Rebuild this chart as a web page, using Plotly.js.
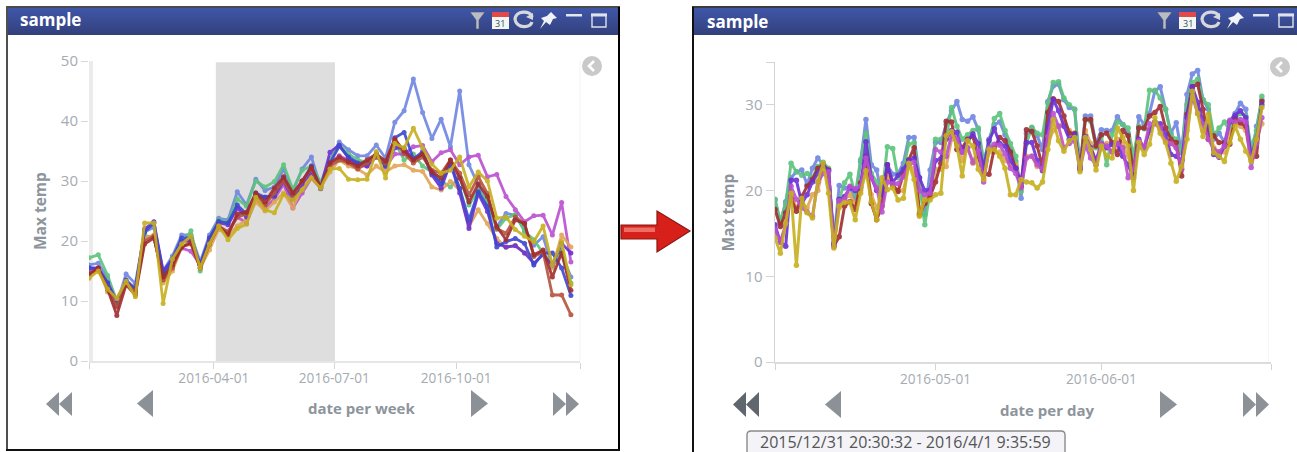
<!DOCTYPE html>
<html><head><meta charset="utf-8">
<script src="https://cdn.plot.ly/plotly-3.0.1.min.js"></script>
<style>html,body{margin:0;padding:0;background:#fff;overflow:hidden}#c{width:1297px;height:452px}</style>
</head><body><div id="c"></div>
<script>
// ---- weekly panel values (°C) ----
const weekStart = '2015-12-28 17:00';
const wPeriwinkle = [16,16.3,13.8,9.5,14.5,12.9,21.5,22.3,15,17.5,21,21,16.5,21,23.8,23.5,28.2,26,30.3,28.4,29,32,28.3,32,34,29,33.5,36.5,35.2,34.2,34.2,36,33.8,39.8,41.7,47,41.4,37.1,40.3,35.7,45,32.7,29.3,26.3,22.4,24.6,24.3,21.8,19.3,20.7,15.8,18,14];
const wGreen = [17.2,17.7,14.3,10,13,11.5,21,20.5,14.5,17,19.5,21.7,15,20.5,23.5,23.2,27,25.8,30,29,29.9,32.7,28.6,31.8,32.5,29.8,33.5,36,34.5,33.5,33.2,34.5,33,36.5,33.5,34.5,32.5,31.5,30,29,30.7,26,28.5,26.6,21.9,23.8,24.4,21.6,20.2,18,16.3,18.5,13];
const wBlue = [15.5,15.3,13,9.2,13.5,12,21.5,23,14.5,17,20.5,20.5,16,20.5,23.3,23,26,24.5,28,27.3,27.5,30.5,27.3,30,32.5,28.7,33,35.8,34,33,33,34.5,32.5,37.2,38.1,33.7,34.9,31.3,29.6,32.9,28.8,23.5,28.2,25.7,19,19.9,20.4,19.6,16,18,18,15.5,10.9];
const wPurple = [15.5,15.5,13,10,13.2,12,22,23.2,15,17,20,20,16,20.5,23,22.7,25.5,24,27.5,27.3,27.5,30,27,29.5,31.5,29,34.8,36,33.8,32.8,32.5,34,32.8,35.5,35.5,33.5,34.5,31,28.8,33,28,22.1,27.9,24.9,19.6,19,19.2,18,16.3,17.7,16,19.6,18];
const wMagenta = [14.8,15.3,12.5,9.7,13,11.5,20.5,20.8,13.5,16.5,18.8,18.3,16,19.5,22.3,21.5,24,23,26.8,25.5,27,29.5,25.5,28,30.5,28.8,33,34.2,33.5,32.5,32.5,34.2,32.3,34.5,34.5,35.7,35.9,33.2,34.7,35.2,32.7,34,34.3,30.7,31.1,27.4,25.2,23.2,24.2,24.3,21,26.4,16.5];
const wDarkRed = [14.5,15.5,12,7.6,12.7,11,19.5,20.5,14,16,19,19.7,15.5,19.5,22.5,21,24.5,24.8,28,26.5,28.8,30.7,28,30,32.3,29,33,34,33.2,32.5,33.5,34.5,33.3,37,35,33.5,34.5,31.5,30.5,33.5,30.5,26.5,29.5,27.4,22.4,20.2,23.5,22.9,17.7,18.5,14,18,11.8];
const wBrick = [14.5,15.3,12,9,13,11.5,20,20.8,13.5,15.5,19,19.5,15.5,19.5,22.5,21.5,24,24.5,27.5,26,28,30,27.5,30,32,29,32.5,33.5,33,32,33,34,33,36.9,34.6,33,34,31.8,31.3,33.5,31.3,27.7,30.7,27.9,22.1,21.3,24,22.9,17.4,18.2,11,11,7.7];
const wOrange = [14,15.5,11.5,10.5,13.3,12,20.5,21,13,15,19,20,15.5,18.5,22,21,22.5,23.5,26.5,25,26.5,28,25.5,29,31,29,31.5,33.5,32.5,32,31,32.5,31.5,32.5,32.7,31.8,31.6,29,28.5,29.9,28.5,22.4,25.2,22.9,20.4,18.9,19.3,18,17.7,18.2,15.5,21,19];
const wYellow = [13.8,15,12,10.4,13.3,10.7,23,23,9.6,17,19.5,20.8,15.5,19.5,22.5,20.2,22.1,22.8,27.3,25.2,24.7,27.8,26.8,28.5,30.5,28.8,32,32.1,30.3,30.2,30.3,34.9,30.5,36.3,35.5,38.8,35.5,32.8,31.3,31.8,34,29,31.5,30,23.8,24,21.9,20.8,19.9,22.5,16,19.9,12.7];
// ---- daily panel values (°C) ----
const dayStart = '2016-04-01';
const dPeriwinkle = [18.9,16.2,18.7,21.5,22.2,22.4,20.7,22.6,23.8,23,22.4,14,20.6,20.3,20.4,18.9,23.4,28.3,23,22.4,19.3,23,21.9,22,23.2,26.2,26.2,21.5,17.2,22.4,25.6,25.6,27.7,29.3,30.4,28.3,28.1,28.6,27.1,23,26,27.7,28,26.5,24.8,23.4,19.1,26.7,27.3,26.4,24.8,30.4,32.2,32.4,30.6,29.7,29.5,22.8,28.7,28.7,25.4,27.1,27,27,28.6,27.7,26.7,22,28.6,27.7,29,31.6,32.1,29.5,26.7,27.9,24.4,31.2,33.6,34,30.6,29.5,26,26.7,25.6,28.1,29,30.2,29.5,24,27.5,30.6];
const dGreen = [19,16.4,18.5,23.2,22.2,21.8,22,21.5,22.8,23.3,22.6,14.5,19,20.9,21.9,19.5,23.6,26.7,22,21,19.5,25.1,24.9,21.5,22.5,25.4,25.6,21,16,20,26,26,26.2,29.7,27.5,26,26.5,27,27.3,23.5,25.5,28.4,29,27,25.5,24,19.9,25.5,27.4,26.7,26.5,30.2,32.6,32.7,30.8,30,29.5,22.5,28.3,28.1,25,26.4,23,26.5,28,27.7,27.3,24,27.5,27.2,31.7,31.7,30.8,29.5,26.5,26,24.5,30,32.6,33,30.6,30,26.5,27.3,28,27,28.5,29,28.7,25,27,31];
const dDarkRed = [17.8,15.8,17.4,19.1,17.6,19.3,20.5,21.3,22.6,23,22.4,13.5,14.6,18.2,18.7,17.8,20.9,24,18.5,16.6,18.2,23,20.7,19.9,21.9,23.6,25,17.2,18.5,19.3,21,23.2,28.1,28,24.8,25,26,26.3,24,21.9,21.9,25,26.2,25.8,24.5,22.6,20.5,27.1,26.9,25.2,22.8,29.1,30.7,30.4,28.7,26.7,26.7,22.5,28.3,28.3,25.2,26.5,26.7,25.6,24.2,27,26.4,22,27.3,27.3,28.7,29.1,29.8,27.3,26,25.6,21.7,28.9,32.1,32.4,29.5,26,26.4,25.6,25.6,25.4,28.5,27.9,27.5,23.8,24,30.4];
const dPurple = [16,14,13.5,21.2,21.2,18.5,19.5,21,22,23,22.3,13.8,19,19.3,20.3,20,20.3,25.7,21.5,20,19.5,23,21,21.8,22.5,23.5,23.8,21.5,20,20.1,23.5,23.7,26,27,26.8,24.5,25.8,26.6,25.5,22.7,25.8,27.2,25.5,25.2,23.5,22.6,21,25.6,25.6,23.5,22.3,27.3,30.6,29.3,27.5,26,26.5,22.8,26.3,25,23.5,25.5,25,25.4,25.5,24,23,21.5,26,25,27,28,27.8,26.5,24.2,24,23.5,28.5,32.1,30.3,28,27.5,24.2,23.9,25.2,28,28.8,29.3,28.5,24,26,30];
const dOrange = [15,14,16,19.5,18,18.5,18,19.5,20,22.7,21,13.5,18,19,19.5,18.5,20,23,19.5,18,19,21.5,20.5,20,20,23,22.5,17.5,19,19.5,22.5,22.5,22.8,26,26,23.5,25,23.2,24,21.5,24.5,24.5,24.5,23.5,23,23,20.5,24,24,22.8,22.5,25.5,27,27.5,28,27,26,23,27,25.5,23,25,25.5,24.5,26,25.5,24,22,25,25,27,28,27,26,25.5,25,22.5,27,31,30,27,28,25,24.5,24.5,26.5,28,27.5,27,23.5,26,27.8];
const dMagenta = [15.5,14,16,20.5,19,18,17.5,17,21,22,22.2,13.5,18.8,19,20.5,20.2,20.5,23.8,21.5,20.3,17.5,21,20.8,20.8,21.6,23,23.3,20,19.5,19.7,24.8,24.5,24,26.5,26,24.5,25,23.3,24.7,21,25,25.4,25.3,24.3,22.6,22,20.3,23.8,24,23,22.5,26.3,29,27.5,25,25.5,25.8,22.5,25.3,23.8,23,25.5,25.2,24.5,25.5,25,21.5,22.5,25.8,25,27.8,27.8,27.3,25.8,25.5,25,22.5,28,31,29,27.8,26,24.8,24.5,25.2,28.2,28,28.3,28,22.7,25.5,28.5];
const dYellow = [14.5,12.7,16.2,19.7,11.3,19.1,17.4,16.8,21.1,23.2,19.7,13.3,18.2,18.6,18.6,16.6,19.7,22.3,18.7,16.6,21.5,20.1,20.3,18.9,19.1,23.2,21.3,17,18.9,18.9,19.5,19.7,26.4,26.9,25.2,21.7,25.8,25.2,22.5,21.3,24.8,24.8,24,22.6,19.5,19.5,21.3,21,20.9,20.3,21,24.8,28.3,25.8,24.6,25.8,26.2,22.2,26.2,24.8,22.4,25.2,24,23.8,27.3,26.2,25.2,20,25.6,24.2,25.4,28.5,26.7,25.6,23.2,21.1,22.8,26,31.6,29,26.3,28.9,24.4,24,23.4,25.6,27.5,26,24.6,23.4,26,29.7];
// ---- labels ----
const panelTitle = 'sample';
const yLabel = 'Max temp';
const xLabelWeek = 'date per week';
const xLabelDay = 'date per day';
const weekTicks = ['2016-04-01','2016-07-01','2016-10-01'];
const dayTicks = ['2016-05-01','2016-06-01'];
const tooltipText = '2015/12/31 20:30:32 - 2016/4/1 9:35:59';
const palette = {periwinkle:'#6f86e2',green:'#5cc47c',blue:'#3d47cf',purple:'#6b2fd6',magenta:'#bb4fd0',darkRed:'#a02c30',brick:'#b5533c',orange:'#e0a556',yellow:'#c6b01e'};

const W=1297,H=452;
const fx=x=>x/W, fy=y=>1-y/H;
const WEEK=7*864e5, DAY=864e5;
function tr(y,color,x0,dx,ax,ay,lw,ms){
  return {type:'scatter',mode:'lines+markers',x0,dx,y,xaxis:ax,yaxis:ay,hoverinfo:'skip',
    opacity:.9,line:{color,width:lw},marker:{color,size:ms}};
}
const wk=(y,c)=>tr(y,c,weekStart,WEEK,'x','y',2.8,5);
const dy=(y,c)=>tr(y,c,dayStart,DAY,'x2','y2',3,5.5);
const data=[
 wk(wPeriwinkle,palette.periwinkle),wk(wGreen,palette.green),wk(wMagenta,palette.magenta),wk(wOrange,palette.orange),
 wk(wPurple,palette.purple),wk(wBlue,palette.blue),wk(wBrick,palette.brick),wk(wDarkRed,palette.darkRed),wk(wYellow,palette.yellow),
 dy(dPeriwinkle,palette.periwinkle),dy(dGreen,palette.green),dy(dOrange,palette.orange),dy(dDarkRed,palette.darkRed),
 dy(dPurple,palette.purple),dy(dMagenta,palette.magenta),dy(dYellow,palette.yellow)
];
function P(s){let i=0;return s.replace(/-?\d+(\.\d+)?/g,m=>{const v=parseFloat(m);const r=(i++%2===0)?fx(v):fy(v);return r.toFixed(5);});}
function path(s,fill,lineColor,lw,layer){return {type:'path',xref:'paper',yref:'paper',path:P(s),fillcolor:fill||'rgba(0,0,0,0)',line:{color:lineColor||'rgba(0,0,0,0)',width:lw||0},layer:layer||'above'};}
function rect(x0,y0,x1,y1,fill,layer){return {type:'rect',xref:'paper',yref:'paper',x0:fx(x0),x1:fx(x1),y0:fy(y0),y1:fy(y1),fillcolor:fill,line:{width:0},layer:layer||'above'};}
const shapes=[];
shapes.push({type:'rect',xref:'x',yref:'y',x0:'2016-04-02 12:00',x1:'2016-07-01 12:00',y0:0,y1:49.8,fillcolor:'#dedede',line:{width:0},layer:'below'});
shapes.push(rect(89,61,93,361,'#ebebeb','below'));
shapes.push(rect(579.5,61,580.5,361,'#f3f3f3','below'));
shapes.push(rect(1268,62,1269,362,'#f6f6f6','below'));
function bar(x0,x1){
  const top=[63,86,168],bot=[50,64,124],n=27;
  for(let k=0;k<n;k++){const t=k/(n-1);
    const c='rgb('+top.map((v,j)=>Math.round(v+(bot[j]-v)*t)).join(',')+')';
    shapes.push(rect(x0,8+k,x1,9+k,c));}
}
bar(8,618); bar(694,1297);
shapes.push(rect(6,6,620,8,'#4a4a4a'));
shapes.push(rect(6,6,8,450,'#4f4f4f'));
shapes.push(rect(618,7,620,451,'#000'));
shapes.push(rect(6,449,620,451,'#111'));
shapes.push(rect(692,6,1297,8,'#3c3c3c'));
shapes.push(rect(692,7,694,452,'#111'));
function icons(o){
  shapes.push(path(`M${470+o} 12 L${485+o} 12 L${479+o} 20 L${479+o} 29 L${476+o} 29 L${476+o} 20 Z`,'#b8bcc4','#4a5272',0.6));
  shapes.push(rect(492+o,12,509+o,29,'#f4f6f4'));
  shapes.push(rect(492+o,12,509+o,17,'#e24a4a'));
  shapes.push(path(`M${515+o} 20 C${515+o} 10 ${531+o} 10 ${532+o} 17`,null,'#d6d8dc',3.2));
  shapes.push(path(`M${532+o} 22 C${530+o} 28 ${518+o} 29 ${515+o} 20`,null,'#d6d8dc',3.2));
  shapes.push(path(`M${526+o} 17 L${533+o} 20 L${533+o} 13 Z`,'#d6d8dc'));
  shapes.push(path(`M${551+o} 12 L${557+o} 18 L${553+o} 19 L${550+o} 25 L${546+o} 22 L${540+o} 29 L${544+o} 21 L${541+o} 18 L${547+o} 16 Z`,'#f2f3f6'));
  shapes.push(rect(566+o,14,582+o,16.5,'#e4e6ee'));
  shapes.push(path(`M${592+o} 14.5 L${606+o} 14.5 L${606+o} 27 L${592+o} 27 Z`,null,'#dfe2ea',1.4));
  shapes.push(rect(591+o,13.5,607+o,16.5,'#dfe2ea'));
}
icons(0); icons(687);
function collapse(cx,cy){
  shapes.push({type:'circle',xref:'paper',yref:'paper',x0:fx(cx-10),x1:fx(cx+10),y0:fy(cy-10),y1:fy(cy+10),fillcolor:'#c9c9c9',line:{width:0},layer:'above'});
  shapes.push(path(`M${cx+2} ${cy-5} L${cx-3} ${cy} L${cx+2} ${cy+5}`,null,'#fff',2.6));
}
collapse(592,66); collapse(1280,67);
shapes.push(path('M621 225 L657 225 L657 211 L690 231 L657 252 L657 239 L621 239 Z','#d8201a','#8a1712',1.2));
shapes.push(rect(624,227.5,655,232,'#ea6f66'));
const tri=(x0,x1,y0,y1,c)=>shapes.push(path(`M${x0} ${(y0+y1)/2} L${x1} ${y0} L${x1} ${y1} Z`,c));
tri(46,59,392,416,'#8b9196');tri(59,72,392,416,'#8b9196');tri(137,153,390,417,'#8b9196');
tri(488,471,390,417,'#8b9196');tri(566,553,392,416,'#8b9196');tri(579,566,392,416,'#8b9196');
tri(733,746,392,417,'#5f666e');tri(746,759,392,417,'#5f666e');tri(825,841,391,418,'#8b9196');
tri(1177,1160,391,418,'#8b9196');tri(1256,1243,392,417,'#8b9196');tri(1269,1256,392,417,'#8b9196');
shapes.push(path('M747 456 L747 435 Q747 431 751 431 L1061 431 Q1065 431 1065 435 L1065 456 Z','#f3f3f8','#8a8a8a',1.4));

const anno=(text,x,y,size,color,extra)=>Object.assign({text,x:fx(x),y:fy(y),xref:'paper',yref:'paper',showarrow:false,xanchor:'center',yanchor:'middle',
  font:{family:'"Open Sans",sans-serif',size,color}},extra||{});
const ttlColor='#8d949c';
const annotations=[
 anno('<b>'+panelTitle+'</b>',50.5,20,17,'#fff'),
 anno('<b>'+panelTitle+'</b>',737,21,17,'#fff'),
 anno('<b>'+yLabel+'</b>',39.5,211.5,15.5,ttlColor,{textangle:-90}),
 anno('<b>'+yLabel+'</b>',727,212.5,15.5,ttlColor,{textangle:-90}),
 anno('<b>'+xLabelWeek+'</b>',361.5,408,15,ttlColor),
 anno('<b>'+xLabelDay+'</b>',1047,410,15,ttlColor),
 anno('31',500.5,23.5,9,'#33505a'),
 anno('31',1187.5,23.5,9,'#33505a'),
 anno(tooltipText,905,441.5,16,'#555',{borderpad:0,borderwidth:0})
];
const tickFont={family:'"Open Sans",sans-serif',size:13.6,color:'#a6abb1'};
const yTickFont=Object.assign({},tickFont,{size:15});
const layout={
 width:W,height:H,margin:{l:0,r:0,t:0,b:0},paper_bgcolor:'#fff',plot_bgcolor:'rgba(0,0,0,0)',showlegend:false,hovermode:false,
 xaxis:{type:'date',domain:[fx(89),fx(580)],range:['2015-12-28 17:00','2017-01-02 14:00'],anchor:'y',
   tickmode:'array',tickvals:['2015-12-28 17:00',...weekTicks,'2017-01-02 14:00'],ticktext:['',...weekTicks,''],ticklabelstandoff:-2,
   showgrid:false,zeroline:false,showline:true,linecolor:'#e6e6e6',linewidth:1.5,ticks:'outside',ticklen:6,tickcolor:'#d4d4d4',tickfont:tickFont},
 yaxis:{domain:[fy(361),fy(61)],range:[0,50],anchor:'x',tickvals:[0,10,20,30,40,50],
   showgrid:false,zeroline:false,showline:false,ticks:'outside',ticklen:7,tickcolor:'#d8d8d8',tickfont:yTickFont},
 xaxis2:{type:'date',domain:[fx(775),fx(1271)],range:['2016-04-01','2016-07-02 17:00'],anchor:'y2',
   tickmode:'array',tickvals:['2016-04-01',...dayTicks,'2016-07-02 17:00'],ticktext:['',...dayTicks,''],ticklabelstandoff:-2,
   showgrid:false,zeroline:false,showline:true,linecolor:'#dcdcdc',linewidth:1.5,ticks:'outside',ticklen:6,tickcolor:'#d4d4d4',tickfont:tickFont},
 yaxis2:{domain:[fy(362),fy(62)],range:[0,35],anchor:'x2',tickmode:'array',tickvals:[0,10,20,30,35],ticktext:['0','10','20','30',''],
   showgrid:false,zeroline:false,showline:true,linecolor:'#d4d4d4',linewidth:1.5,ticks:'outside',ticklen:8,tickcolor:'#d4d4d4',tickfont:yTickFont},
 shapes,annotations
};
Plotly.newPlot('c',data,layout,{displayModeBar:false,staticPlot:true});
</script></body></html>
